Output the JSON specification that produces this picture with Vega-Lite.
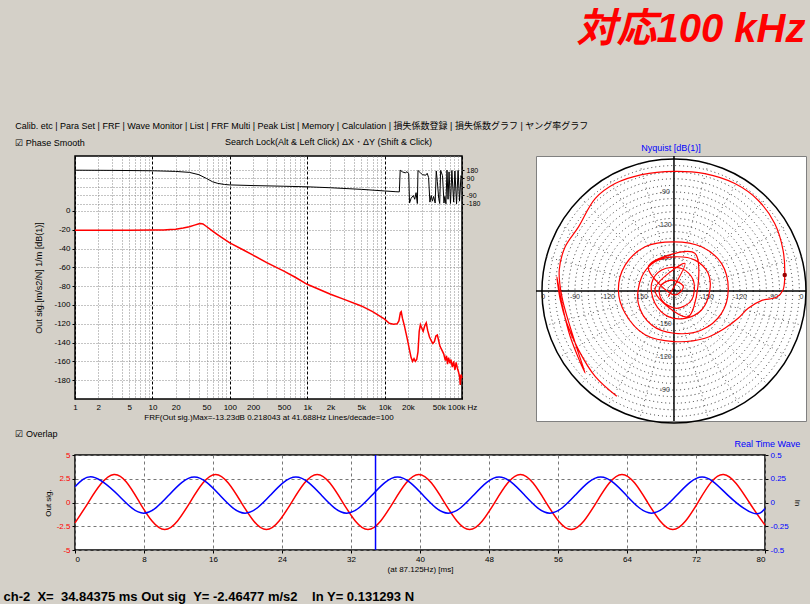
{
  "$schema": "https://vega.github.io/schema/vega-lite/v6.json",
  "background": "#d4d0c8",
  "padding": {"left": 3, "top": 10, "right": 0, "bottom": 0},
  "title": {"text": "対応100 kHz", "anchor": "end", "color": "#ff0000", "fontSize": 40, "fontStyle": "italic", "fontWeight": "bold", "font": "Liberation Sans, Noto Sans CJK JP", "offset": 72, "dx": -4},
  "datasets": {
    "mag": [
      {"f": 1, "db": -20.5}, {"f": 2, "db": -20.5}, {"f": 5, "db": -20.4}, {"f": 10, "db": -20.3}, {"f": 14, "db": -20.1},
      {"f": 17, "db": -19.6}, {"f": 20, "db": -19.3}, {"f": 25, "db": -18.2}, {"f": 30, "db": -16.8}, {"f": 35, "db": -15.0},
      {"f": 40, "db": -13.5}, {"f": 42, "db": -13.23}, {"f": 45, "db": -13.8}, {"f": 50, "db": -16.5}, {"f": 60, "db": -21.5},
      {"f": 70, "db": -25.5}, {"f": 80, "db": -28.5}, {"f": 100, "db": -34}, {"f": 150, "db": -41.5}, {"f": 200, "db": -47},
      {"f": 300, "db": -55}, {"f": 500, "db": -64}, {"f": 700, "db": -70.5}, {"f": 1000, "db": -78}, {"f": 2000, "db": -88.5},
      {"f": 3000, "db": -94}, {"f": 5000, "db": -101}, {"f": 7000, "db": -107}, {"f": 10000, "db": -115}, {"f": 11500, "db": -119.5},
      {"f": 13000, "db": -120.5}, {"f": 14500, "db": -120}, {"f": 15300, "db": -117}, {"f": 16000, "db": -108}, {"f": 16400, "db": -107},
      {"f": 17000, "db": -114}, {"f": 18000, "db": -122}, {"f": 19500, "db": -135}, {"f": 21000, "db": -148}, {"f": 22000, "db": -156},
      {"f": 23000, "db": -160}, {"f": 24000, "db": -157}, {"f": 25000, "db": -160}, {"f": 26000, "db": -158}, {"f": 27000, "db": -150},
      {"f": 28000, "db": -128}, {"f": 29000, "db": -121}, {"f": 30000, "db": -124}, {"f": 31500, "db": -128}, {"f": 33000, "db": -122},
      {"f": 34500, "db": -119}, {"f": 36000, "db": -127}, {"f": 38000, "db": -134}, {"f": 40000, "db": -138}, {"f": 42000, "db": -141},
      {"f": 44000, "db": -139}, {"f": 46000, "db": -133}, {"f": 48000, "db": -132}, {"f": 50000, "db": -138}, {"f": 52000, "db": -144},
      {"f": 55000, "db": -148}, {"f": 58000, "db": -152}, {"f": 61000, "db": -159}, {"f": 63000, "db": -154}, {"f": 65000, "db": -163},
      {"f": 67000, "db": -156}, {"f": 70000, "db": -162}, {"f": 72000, "db": -158}, {"f": 75000, "db": -166}, {"f": 78000, "db": -160},
      {"f": 81000, "db": -169}, {"f": 84000, "db": -161}, {"f": 87000, "db": -167}, {"f": 90000, "db": -171}, {"f": 93000, "db": -176},
      {"f": 95000, "db": -185}, {"f": 97000, "db": -174}, {"f": 100000, "db": -178}
    ],
    "phase": [
      {"f": 1, "deg": 178}, {"f": 3, "deg": 176}, {"f": 10, "deg": 172}, {"f": 20, "deg": 165}, {"f": 30, "deg": 155},
      {"f": 40, "deg": 130}, {"f": 50, "deg": 90}, {"f": 60, "deg": 55}, {"f": 70, "deg": 38}, {"f": 85, "deg": 27},
      {"f": 100, "deg": 22}, {"f": 200, "deg": 15}, {"f": 500, "deg": 8}, {"f": 1000, "deg": 2}, {"f": 2000, "deg": -8},
      {"f": 5000, "deg": -25}, {"f": 10000, "deg": -42}, {"f": 14000, "deg": -50}, {"f": 15500, "deg": -52}, {"f": 15900, "deg": 178},
      {"f": 17000, "deg": 160}, {"f": 18500, "deg": 150}, {"f": 19500, "deg": 162}, {"f": 20500, "deg": 140}, {"f": 21000, "deg": -170},
      {"f": 22000, "deg": -120}, {"f": 23500, "deg": -90}, {"f": 24500, "deg": -130}, {"f": 25500, "deg": -60}, {"f": 26500, "deg": -175},
      {"f": 27000, "deg": 175}, {"f": 29000, "deg": 150}, {"f": 31000, "deg": 130}, {"f": 34000, "deg": 125}, {"f": 35500, "deg": 145},
      {"f": 37000, "deg": 100}, {"f": 38500, "deg": -160}, {"f": 40000, "deg": -90}, {"f": 41500, "deg": -150}, {"f": 43000, "deg": -100},
      {"f": 45000, "deg": -170}, {"f": 46500, "deg": 170}, {"f": 48000, "deg": 60}, {"f": 50000, "deg": -120}, {"f": 51500, "deg": -175},
      {"f": 53000, "deg": 175}, {"f": 56000, "deg": 120}, {"f": 58500, "deg": -170}, {"f": 60000, "deg": -100}, {"f": 62000, "deg": -178},
      {"f": 64000, "deg": 178}, {"f": 66000, "deg": -130}, {"f": 68000, "deg": 160}, {"f": 71000, "deg": -175}, {"f": 74000, "deg": 175},
      {"f": 78000, "deg": -160}, {"f": 81000, "deg": 170}, {"f": 85000, "deg": -178}, {"f": 89000, "deg": 176}, {"f": 93000, "deg": -150},
      {"f": 97000, "deg": 120}, {"f": 100000, "deg": 90}
    ],
    "rings": [
      {"r": 0.05}, {"r": 0.1}, {"r": 0.15}, {"r": 0.2}, {"r": 0.25}, {"r": 0.3}, {"r": 0.35}, {"r": 0.4}, {"r": 0.45}, {"r": 0.5},
      {"r": 0.55}, {"r": 0.6}, {"r": 0.65}, {"r": 0.7}, {"r": 0.75}, {"r": 0.8}, {"r": 0.85}, {"r": 0.9}, {"r": 0.95}
    ],
    "outer": [{"r": 1}],
    "spokes": [
      {"x": 0.966, "y": 0.259, "x2": -0.966, "y2": -0.259},
      {"x": 0.866, "y": 0.5, "x2": -0.866, "y2": -0.5},
      {"x": 0.707, "y": 0.707, "x2": -0.707, "y2": -0.707},
      {"x": 0.5, "y": 0.866, "x2": -0.5, "y2": -0.866},
      {"x": 0.259, "y": 0.966, "x2": -0.259, "y2": -0.966},
      {"x": -0.259, "y": 0.966, "x2": 0.259, "y2": -0.966},
      {"x": -0.5, "y": 0.866, "x2": 0.5, "y2": -0.866},
      {"x": -0.707, "y": 0.707, "x2": 0.707, "y2": -0.707},
      {"x": -0.866, "y": 0.5, "x2": 0.866, "y2": -0.5},
      {"x": -0.966, "y": 0.259, "x2": 0.966, "y2": -0.259}
    ],
    "nqaxes": [
      {"x": -1.045, "y": 0, "x2": 1.0, "y2": 0},
      {"x": 0, "y": -0.985, "x2": 0, "y2": 1.023}
    ],
    "nqlabels": [
      {"x": -0.99, "y": -0.045, "t": "0"}, {"x": -0.75, "y": -0.045, "t": "-90"}, {"x": -0.5, "y": -0.045, "t": "-120"}, {"x": -0.25, "y": -0.045, "t": "-150"},
      {"x": 0.25, "y": -0.045, "t": "-150"}, {"x": 0.5, "y": -0.045, "t": "-120"}, {"x": 0.75, "y": -0.045, "t": "-90"}, {"x": 0.965, "y": -0.045, "t": "0"},
      {"x": -0.07, "y": 0.75, "t": "-90"}, {"x": -0.07, "y": 0.5, "t": "-120"}, {"x": -0.07, "y": 0.25, "t": "-150"},
      {"x": -0.07, "y": -0.25, "t": "-150"}, {"x": -0.07, "y": -0.5, "t": "-120"}, {"x": -0.07, "y": -0.75, "t": "-90"}
    ],
    "nyq": [
      {"i": 0, "x": -0.433, "y": -0.798}, {"i": 1, "x": -0.597, "y": -0.647}, {"i": 2, "x": -0.723, "y": -0.446}, {"i": 3, "x": -0.811, "y": -0.244},
      {"i": 4, "x": -0.861, "y": -0.068}, {"i": 5, "x": -0.887, "y": 0.108}, {"i": 6, "x": -0.849, "y": -0.093}, {"i": 7, "x": -0.786, "y": -0.345},
      {"i": 8, "x": -0.673, "y": -0.622}, {"i": 9, "x": -0.748, "y": -0.395}, {"i": 10, "x": -0.849, "y": -0.043}, {"i": 11, "x": -0.869, "y": 0.159},
      {"i": 12, "x": -0.824, "y": 0.335}, {"i": 13, "x": -0.723, "y": 0.486}, {"i": 14, "x": -0.597, "y": 0.7}, {"i": 15, "x": -0.446, "y": 0.814},
      {"i": 16, "x": -0.244, "y": 0.882}, {"i": 17, "x": 0, "y": 0.907}, {"i": 18, "x": 0.234, "y": 0.889}, {"i": 19, "x": 0.461, "y": 0.814},
      {"i": 20, "x": 0.637, "y": 0.688}, {"i": 21, "x": 0.763, "y": 0.511}, {"i": 22, "x": 0.826, "y": 0.31}, {"i": 23, "x": 0.839, "y": 0.121},
      {"i": 24, "x": 0.826, "y": 0.008}, {"i": 25, "x": 0.776, "y": -0.048}, {"i": 26, "x": 0.662, "y": -0.073}, {"i": 27, "x": 0.562, "y": -0.131},
      {"i": 28, "x": 0.486, "y": -0.207}, {"i": 29, "x": 0.385, "y": -0.282}, {"i": 30, "x": 0.234, "y": -0.358}, {"i": 31, "x": 0, "y": -0.383},
      {"i": 32, "x": -0.219, "y": -0.332}, {"i": 33, "x": -0.37, "y": -0.169}, {"i": 34, "x": -0.421, "y": 0.008}, {"i": 35, "x": -0.37, "y": 0.196},
      {"i": 36, "x": -0.219, "y": 0.335}, {"i": 37, "x": 0, "y": 0.373}, {"i": 38, "x": 0.209, "y": 0.335}, {"i": 39, "x": 0.36, "y": 0.209},
      {"i": 40, "x": 0.411, "y": 0.008}, {"i": 41, "x": 0.36, "y": -0.169}, {"i": 42, "x": 0.209, "y": -0.295}, {"i": 43, "x": 0, "y": -0.32},
      {"i": 44, "x": -0.169, "y": -0.257}, {"i": 45, "x": -0.27, "y": -0.093}, {"i": 46, "x": -0.244, "y": 0.108}, {"i": 47, "x": -0.144, "y": 0.222},
      {"i": 48, "x": 0, "y": 0.259}, {"i": 49, "x": 0.159, "y": 0.234}, {"i": 50, "x": 0.259, "y": 0.134}, {"i": 51, "x": 0.272, "y": 0.008},
      {"i": 52, "x": 0.209, "y": -0.144}, {"i": 53, "x": 0.083, "y": -0.207}, {"i": 54, "x": -0.043, "y": -0.194}, {"i": 55, "x": -0.144, "y": -0.093},
      {"i": 56, "x": -0.169, "y": 0.058}, {"i": 57, "x": -0.093, "y": 0.159}, {"i": 58, "x": 0.058, "y": 0.171}, {"i": 59, "x": 0.146, "y": 0.083},
      {"i": 60, "x": 0.134, "y": -0.068}, {"i": 61, "x": 0.02, "y": -0.131}, {"i": 62, "x": -0.093, "y": -0.068}, {"i": 63, "x": -0.106, "y": 0.033},
      {"i": 64, "x": -0.018, "y": 0.083}, {"i": 65, "x": 0.071, "y": 0.033}, {"i": 66, "x": 0.008, "y": -0.03}, {"i": 67, "x": -0.194, "y": 0.184},
      {"i": 68, "x": 0.159, "y": 0.285}, {"i": 69, "x": 0.108, "y": -0.194}, {"i": 70, "x": -0.144, "y": 0.008}, {"i": 71, "x": 0.083, "y": 0.209},
      {"i": 72, "x": -0.043, "y": -0.043}
    ],
    "nqdot": [{"x": 0.839, "y": 0.121}],
    "out": [
      {"t": 0, "v": -2.14}, {"t": 1.575, "v": 0.05}, {"t": 4.52, "v": 2.95}, {"t": 7.465, "v": 0.05}, {"t": 10.41, "v": -2.85},
      {"t": 13.355, "v": 0.05}, {"t": 16.3, "v": 2.95}, {"t": 19.245, "v": 0.05}, {"t": 22.19, "v": -2.85}, {"t": 25.135, "v": 0.05},
      {"t": 28.08, "v": 2.95}, {"t": 31.025, "v": 0.05}, {"t": 33.97, "v": -2.85}, {"t": 36.915, "v": 0.05}, {"t": 39.86, "v": 2.95},
      {"t": 42.805, "v": 0.05}, {"t": 45.75, "v": -2.85}, {"t": 48.695, "v": 0.05}, {"t": 51.64, "v": 2.95}, {"t": 54.585, "v": 0.05},
      {"t": 57.53, "v": -2.85}, {"t": 60.475, "v": 0.05}, {"t": 63.42, "v": 2.95}, {"t": 66.365, "v": 0.05}, {"t": 69.31, "v": -2.85},
      {"t": 72.255, "v": 0.05}, {"t": 75.2, "v": 2.95}, {"t": 78.145, "v": 0.05}, {"t": 80, "v": -2.37}
    ],
    "inp": [
      {"t": 0, "v": 0.165}, {"t": 2.05, "v": 0.268}, {"t": 5.0, "v": 0.078}, {"t": 7.94, "v": -0.112}, {"t": 10.89, "v": 0.078},
      {"t": 13.83, "v": 0.268}, {"t": 16.78, "v": 0.078}, {"t": 19.72, "v": -0.112}, {"t": 22.67, "v": 0.078}, {"t": 25.61, "v": 0.268},
      {"t": 28.56, "v": 0.078}, {"t": 31.5, "v": -0.112}, {"t": 34.45, "v": 0.078}, {"t": 37.39, "v": 0.268}, {"t": 40.34, "v": 0.078},
      {"t": 43.28, "v": -0.112}, {"t": 46.23, "v": 0.078}, {"t": 49.17, "v": 0.268}, {"t": 52.12, "v": 0.078}, {"t": 55.06, "v": -0.112},
      {"t": 58.01, "v": 0.078}, {"t": 60.95, "v": 0.268}, {"t": 63.9, "v": 0.078}, {"t": 66.84, "v": -0.112}, {"t": 69.79, "v": 0.078},
      {"t": 72.73, "v": 0.268}, {"t": 75.68, "v": 0.078}, {"t": 78.62, "v": -0.112}, {"t": 80, "v": -0.063}
    ],
    "cursor": [{"t": 34.84375}]
  },
  "vconcat": [
    {
      "title": {"text": ["Calib. etc | Para Set | FRF | Wave Monitor | List | FRF Multi | Peak List | Memory | Calculation | 損失係数登録 | 損失係数グラフ | ヤング率グラフ", "☑ Phase Smooth"], "font": "Liberation Sans, Noto Sans CJK JP", "fontSize": 9, "fontWeight": "normal", "lineHeight": 17, "anchor": "start", "dx": -19, "offset": -11, "color": "#000000"},
      "hconcat": [
        {
          "width": 387,
          "height": 243,
          "title": {"text": "Search Lock(Alt & Left Click)  ΔX・ΔY (Shift & Click)", "fontSize": 9, "fontWeight": "normal", "dx": 60, "offset": 9},
          "layer": [
            {
              "data": {"name": "mag"},
              "mark": {"type": "line", "color": "#ff0000", "strokeWidth": 1.5},
              "encoding": {
                "x": {
                  "field": "f", "type": "quantitative",
                  "scale": {"type": "log", "domain": [1, 100000], "nice": false},
                  "axis": {
                    "values": [1,2,3,4,5,6,7,8,9,10,20,30,40,50,60,70,80,90,100,200,300,400,500,600,700,800,900,1000,2000,3000,4000,5000,6000,7000,8000,9000,10000,20000,30000,40000,50000,60000,70000,80000,90000,100000],
                    "labelExpr": "indexof([1,2,5,10,20,50,100,200,500],datum.value)>=0 ? ''+datum.value : indexof([1000,2000,5000,10000,20000,50000],datum.value)>=0 ? (datum.value/1000)+'k' : datum.value==100000 ? '100k Hz' : ''",
                    "labelOverlap": false,
                    "labelFlush": false,
                    "grid": true,
                    "gridColor": {"condition": {"test": "indexof([1,10,100,1000,10000,100000],datum.value)>=0", "value": "#000000"}, "value": "#888888"},
                    "gridDash": {"condition": {"test": "indexof([1,10,100,1000,10000,100000],datum.value)>=0", "value": [3, 2]}, "value": [1, 2]},
                    "ticks": false,
                    "labelPadding": 4,
                    "title": "FRF(Out sig.)Max=-13.23dB 0.218043 at 41.688Hz  Lines/decade=100",
                    "titleFontSize": 8,
                    "titlePadding": 2
                  }
                },
                "y": {
                  "field": "db", "type": "quantitative",
                  "scale": {"domain": [-200, 58.5], "nice": false, "zero": false},
                  "axis": {"values": [-180,-160,-140,-120,-100,-80,-60,-40,-20,0], "labelExpr": "''+datum.value", "grid": true, "title": "Out sig.[m/s2/N] 1/m [dB(1)]", "titlePadding": 10}
                }
              }
            },
            {
              "data": {"name": "phase"},
              "mark": {"type": "line", "color": "#000000", "strokeWidth": 1},
              "encoding": {
                "x": {"field": "f", "type": "quantitative", "scale": {"type": "log", "domain": [1, 100000], "nice": false}},
                "y": {
                  "field": "deg", "type": "quantitative",
                  "scale": {"domain": [-2245.7, 328.3], "nice": false, "zero": false},
                  "axis": {"orient": "right", "values": [-180, -90, 0, 90, 180], "labelExpr": "''+datum.value", "grid": true, "labelFontSize": 7, "title": null, "tickSize": 2}
                }
              }
            }
          ],
          "resolve": {"scale": {"y": "independent"}, "axis": {"y": "independent"}}
        },
        {
          "width": 270,
          "height": 265,
          "title": {"text": "Nyquist [dB(1)]", "color": "#0000ff", "fontSize": 9, "fontWeight": "normal", "offset": 2},
          "view": {"stroke": "#808080", "strokeWidth": 1, "fill": "white"},
          "layer": [
            {
              "data": {"name": "rings"},
              "mark": {"type": "point", "filled": false, "color": "#333333", "strokeWidth": 1, "strokeDash": [1, 3], "opacity": 1},
              "encoding": {
                "x": {"datum": 0, "type": "quantitative", "scale": {"domain": [-1.045, 1.0], "nice": false, "zero": false}, "axis": null},
                "y": {"datum": 0, "type": "quantitative", "scale": {"domain": [-0.985, 1.023], "nice": false, "zero": false}, "axis": null},
                "size": {"field": "r", "type": "quantitative", "scale": {"type": "pow", "exponent": 2, "domain": [0, 1], "range": [0, 69696]}, "legend": null}
              }
            },
            {
              "data": {"name": "outer"},
              "mark": {"type": "point", "filled": false, "color": "#000000", "strokeWidth": 1.5, "opacity": 1},
              "encoding": {
                "x": {"datum": 0, "type": "quantitative"},
                "y": {"datum": 0, "type": "quantitative"},
                "size": {"field": "r", "type": "quantitative", "scale": {"type": "pow", "exponent": 2, "domain": [0, 1], "range": [0, 69696]}, "legend": null}
              }
            },
            {
              "data": {"name": "spokes"},
              "mark": {"type": "rule", "color": "#555555", "strokeWidth": 1, "strokeDash": [1, 4]},
              "encoding": {
                "x": {"field": "x", "type": "quantitative"},
                "y": {"field": "y", "type": "quantitative"},
                "x2": {"field": "x2"},
                "y2": {"field": "y2"}
              }
            },
            {
              "data": {"name": "nqaxes"},
              "mark": {"type": "rule", "color": "#000000", "strokeWidth": 1.5},
              "encoding": {
                "x": {"field": "x", "type": "quantitative"},
                "y": {"field": "y", "type": "quantitative"},
                "x2": {"field": "x2"},
                "y2": {"field": "y2"}
              }
            },
            {
              "data": {"name": "nqlabels"},
              "mark": {"type": "text", "fontSize": 7, "color": "#333333"},
              "encoding": {
                "x": {"field": "x", "type": "quantitative"},
                "y": {"field": "y", "type": "quantitative"},
                "text": {"field": "t"}
              }
            },
            {
              "data": {"name": "nyq"},
              "mark": {"type": "line", "color": "#ff0000", "strokeWidth": 1.2, "interpolate": "catmull-rom"},
              "encoding": {
                "x": {"field": "x", "type": "quantitative"},
                "y": {"field": "y", "type": "quantitative"},
                "order": {"field": "i"}
              }
            },
            {
              "data": {"name": "nqdot"},
              "mark": {"type": "point", "filled": true, "color": "#990000", "size": 20, "opacity": 1},
              "encoding": {
                "x": {"field": "x", "type": "quantitative"},
                "y": {"field": "y", "type": "quantitative"}
              }
            }
          ]
        }
      ],
      "spacing": 53
    },
    {
      "title": {"text": "ch-2\u00a0\u00a0X=\u00a0\u00a034.84375 ms Out sig\u00a0\u00a0Y= -2.46477 m/s2\u00a0\u00a0\u00a0\u00a0In Y= 0.131293 N", "orient": "bottom", "anchor": "start", "fontSize": 13, "fontWeight": "bold", "color": "#000000", "offset": 17, "dx": -12},
      "vconcat": [
        {
          "title": {"text": "☑ Overlap", "fontSize": 9, "fontWeight": "normal", "anchor": "start", "dx": -28, "offset": 0, "color": "#000000"},
          "vconcat": [
            {
              "width": 690,
              "height": 95,
              "title": {"text": "Real Time Wave", "color": "#0000ff", "fontSize": 9, "fontWeight": "normal", "anchor": "end", "offset": 2},
              "layer": [
                {
                  "data": {"name": "out"},
                  "mark": {"type": "line", "color": "#ff0000", "strokeWidth": 1.5, "interpolate": "natural"},
                  "encoding": {
                    "x": {
                      "field": "t", "type": "quantitative",
                      "scale": {"domain": [0, 80], "nice": false},
                      "axis": {"values": [0,8,16,24,32,40,48,56,64,72,80], "grid": true, "gridDash": [3, 3], "gridColor": "#777777", "title": "(at 87.125Hz) [ms]", "titleFontSize": 8, "titlePadding": 2}
                    },
                    "y": {
                      "field": "v", "type": "quantitative",
                      "scale": {"domain": [-5, 5], "nice": false},
                      "axis": {"values": [-5, -2.5, 0, 2.5, 5], "labelExpr": "''+datum.value", "labelColor": "#ff0000", "grid": true, "gridDash": [3, 3], "gridColor": "#777777", "title": "Out sig.", "titleFontSize": 8}
                    }
                  }
                },
                {
                  "data": {"name": "inp"},
                  "mark": {"type": "line", "color": "#0000ff", "strokeWidth": 1.5, "interpolate": "natural"},
                  "encoding": {
                    "x": {"field": "t", "type": "quantitative"},
                    "y": {
                      "field": "v", "type": "quantitative",
                      "scale": {"domain": [-0.5, 0.5], "nice": false},
                      "axis": {"orient": "right", "values": [-0.5, -0.25, 0, 0.25, 0.5], "labelExpr": "''+datum.value", "labelColor": "#0000ff", "grid": false, "title": "In", "titleFontSize": 8}
                    }
                  }
                },
                {
                  "data": {"name": "cursor"},
                  "mark": {"type": "rule", "color": "#0000ff", "strokeWidth": 1.5},
                  "encoding": {"x": {"field": "t", "type": "quantitative"}}
                }
              ],
              "resolve": {"scale": {"y": "independent"}, "axis": {"y": "independent"}}
            }
          ]
        }
      ]
    }
  ],
  "spacing": 3,
  "config": {
    "font": "Liberation Sans",
    "view": {"fill": "white", "stroke": "#000000", "strokeWidth": 1.5},
    "axis": {"labelFontSize": 8, "titleFontSize": 9, "titleFontWeight": "normal", "labelColor": "#000000", "titleColor": "#000000", "domain": false, "tickColor": "#000000", "tickSize": 3, "gridColor": "#888888", "gridDash": [1, 2], "gridOpacity": 1},
    "title": {"fontSize": 9, "fontWeight": "normal"}
  }
}
